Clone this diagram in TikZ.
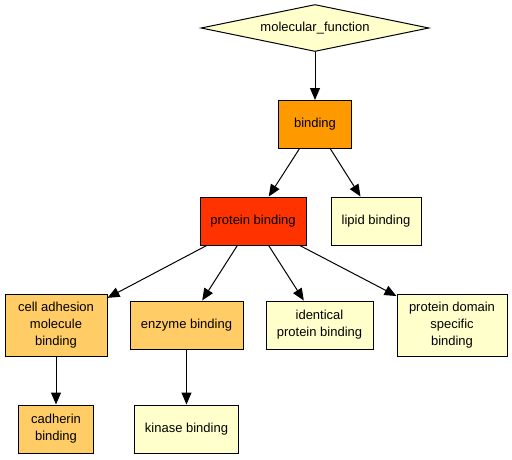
\documentclass[tikz,border=0pt]{standalone}
\usepackage{fontspec}
\setmainfont{Liberation Sans}
\usetikzlibrary{positioning,shapes.geometric,arrows.meta}
\definecolor{goyellow}{HTML}{FFFFCC}
\definecolor{golight}{HTML}{FFCC66}
\definecolor{goorange}{HTML}{FF9900}
\definecolor{gored}{HTML}{FF3300}
\tikzstyle{term}=[rectangle,minimum height=48pt,text centered,align=center,draw=black,line width=1pt,inner sep=2pt,font=\fontsize{13}{17}\selectfont]
\tikzstyle{root}=[diamond,aspect=4.85,minimum width=228pt,minimum height=47pt,inner sep=0pt,draw=black,line width=1pt,fill=goyellow,font=\fontsize{13}{17}\selectfont]

\begin{document}
\begin{tikzpicture}[x=1pt,y=1pt,node distance=96.5pt,>={Triangle[length=12pt,width=10pt]},line width=1pt]
\useasboundingbox (0,0) rectangle (512,-459);
\node(mf)[root] at (315,-28){molecular\_function};
\node(binding)[term,fill=goorange,minimum width=73pt,below of=mf]{binding};
\node(protein)[term,fill=gored,minimum width=106pt,below of=binding,xshift=-62pt]{protein binding};
\node(lipid)[term,fill=goyellow,minimum width=90pt,below of=binding,xshift=61pt]{lipid binding};
\node(celladh)[term,fill=golight,minimum width=102pt,minimum height=62pt,below of=protein,xshift=-197pt,yshift=-7.5pt]{cell adhesion\\molecule\\binding};
\node(enzyme)[term,fill=golight,minimum width=113pt,below of=protein,xshift=-66.5pt,yshift=-7.5pt]{enzyme binding};
\node(identical)[term,fill=goyellow,minimum width=107pt,below of=protein,xshift=66.5pt,yshift=-7.5pt]{identical\\protein binding};
\node(domain)[term,fill=goyellow,minimum width=110pt,minimum height=62pt,below of=protein,xshift=199pt,yshift=-7.5pt]{protein domain\\specific\\binding};
\node(cadherin)[term,fill=golight,minimum width=75pt,below of=celladh,yshift=-7.5pt]{cadherin\\binding};
\node(kinase)[term,fill=goyellow,minimum width=104pt,below of=enzyme,yshift=-7.5pt]{kinase binding};
\draw[->](mf)--(binding);
\draw[->](binding)--(protein);
\draw[->](binding)--(lipid);
\draw[->](protein)--(celladh);
\draw[->](protein)--(enzyme);
\draw[->](protein)--(identical);
\draw[->](protein)--(domain);
\draw[->](celladh)--(cadherin);
\draw[->](enzyme)--(kinase);
\end{tikzpicture}
\end{document}
